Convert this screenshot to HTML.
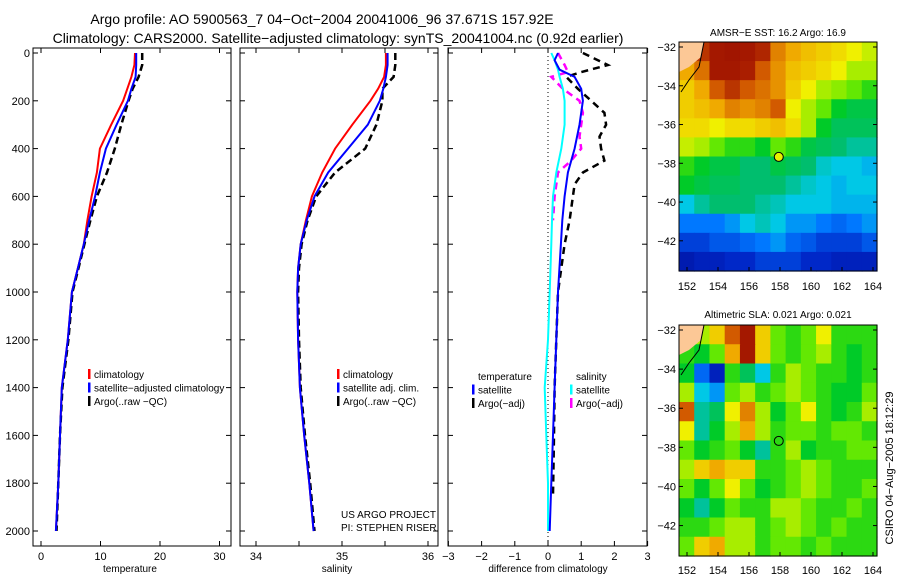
<!DOCTYPE html>
<html><head><meta charset="utf-8">
<style>
body{margin:0;background:#fff;}
svg{display:block;font-family:"Liberation Sans",sans-serif;}
</style></head>
<body>
<svg id="c" width="900" height="580" xmlns="http://www.w3.org/2000/svg">
<text x="322" y="24" font-size="14" text-anchor="middle">Argo profile: AO 5900563_7 04−Oct−2004 20041006_96 37.671S 157.92E</text>
<text x="338" y="43" font-size="14" text-anchor="middle">Climatology: CARS2000. Satellite−adjusted climatology: synTS_20041004.nc (0.92d earlier)</text>
<text x="130" y="572" font-size="10" text-anchor="middle">temperature</text>
<text x="337" y="572" font-size="10" text-anchor="middle">salinity</text>
<text x="548" y="572" font-size="10" text-anchor="middle">difference from climatology</text>
<text x="341" y="518" font-size="10">US ARGO PROJECT</text>
<text x="341" y="531" font-size="10">PI: STEPHEN RISER</text>
<text x="0" y="0" font-size="11" text-anchor="middle" transform="translate(893,468) rotate(-90)">CSIRO 04−Aug−2005 18:12:29</text>
<text x="778" y="36" font-size="10" text-anchor="middle">AMSR−E SST: 16.2 Argo: 16.9</text>
<text x="778" y="318" font-size="10" text-anchor="middle">Altimetric SLA: 0.021 Argo: 0.021</text>
</svg>
<script>
// ---- data ----
const depths = [0,50,100,150,200,300,400,500,600,700,800,900,1000,1200,1400,1600,1800,2000];
const tempClim = [15.8,15.7,15.2,14.5,13.8,11.8,9.9,9.4,8.5,7.8,7.2,6.2,5.2,4.5,3.5,3.2,2.9,2.5];
const tempSat  = [16.0,16.0,15.9,15.2,14.6,12.7,10.9,9.9,9.1,8.1,7.2,6.2,5.2,4.5,3.5,3.2,2.9,2.5];
const tempArgo = [17.0,17.0,16.4,15.4,14.7,13.5,12.4,11.1,9.4,8.3,7.3,6.3,5.3,4.6,3.6,3.2,2.9,2.6];
const salClim = [35.51,35.51,35.49,35.42,35.33,35.12,34.92,34.77,34.65,34.58,34.52,34.49,34.48,34.49,34.51,34.56,34.62,34.67];
const salSat  = [35.53,35.53,35.51,35.48,35.44,35.30,35.07,34.84,34.68,34.59,34.52,34.49,34.48,34.49,34.51,34.56,34.62,34.67];
const salArgo = [35.62,35.62,35.60,35.47,35.47,35.40,35.27,34.92,34.70,34.60,34.53,34.50,34.49,34.50,34.52,34.57,34.63,34.68];
const dDepths = [0,30,70,100,150,200,300,400,500,600,700,800,1000,1200,1400,1600,1800,2000];
const dTempSat = [0.3,0.2,0.35,0.8,1.0,1.05,0.95,0.8,0.6,0.5,0.43,0.39,0.3,0.25,0.2,0.15,0.1,0.05];
const dSalSat  = [0.1,0.2,0.3,0.35,0.45,0.5,0.5,0.4,0.25,0.15,0.12,0.1,0.05,0.0,-0.1,-0.05,0.0,0.0];
const argoDDepths = [0,50,80,100,150,200,250,300,350,400,450,500,550,600,700,800,1000,1200,1400,1600,1850];
const dTempArgo = [1.05,1.8,1.0,0.55,0.9,1.3,1.7,1.75,1.55,1.6,1.7,1.05,0.8,0.75,0.65,0.5,0.3,0.25,0.2,0.18,0.15];
const dSalArgo  = [0.3,0.5,0.6,0.1,0.45,0.95,1.05,1.0,0.95,1.0,0.7,0.3,0.25,0.2,0.15];
const depthTicks = [0,200,400,600,800,1000,1200,1400,1600,1800,2000];
const tempTicks = [0,10,20,30];
const salTicks = [34,34.5,35,35.5,36];
const salTickLabels = ["34","","35","","36"];
const diffTicks = [-3,-2,-1,0,1,2,3];
const lonTicks = [152,154,156,158,160,162,164];
const latTicks = [-32,-34,-36,-38,-40,-42];
// SST map grid: rows lat -32..-43, cols lon 152..164 (0..1 colour scale)
const sstGrid = [
[0.78,0.9,0.95,0.96,0.95,0.92,0.8,0.75,0.72,0.7,0.68,0.65,0.62],
[0.75,0.82,0.95,0.95,0.93,0.85,0.78,0.72,0.7,0.68,0.65,0.6,0.6],
[0.7,0.75,0.85,0.9,0.85,0.82,0.78,0.7,0.65,0.6,0.58,0.55,0.5],
[0.7,0.72,0.75,0.8,0.78,0.8,0.85,0.65,0.6,0.55,0.45,0.42,0.42],
[0.68,0.68,0.65,0.68,0.68,0.7,0.72,0.68,0.6,0.45,0.4,0.4,0.4],
[0.62,0.6,0.55,0.5,0.5,0.45,0.55,0.5,0.42,0.4,0.38,0.35,0.35],
[0.5,0.45,0.42,0.42,0.38,0.38,0.42,0.4,0.38,0.32,0.3,0.3,0.28],
[0.45,0.42,0.4,0.4,0.38,0.38,0.38,0.35,0.32,0.3,0.28,0.3,0.3],
[0.3,0.35,0.38,0.38,0.38,0.35,0.33,0.3,0.3,0.3,0.28,0.28,0.28],
[0.22,0.22,0.22,0.25,0.3,0.33,0.3,0.25,0.25,0.22,0.2,0.22,0.25],
[0.15,0.15,0.18,0.18,0.2,0.22,0.25,0.2,0.18,0.15,0.15,0.15,0.18],
[0.08,0.1,0.1,0.12,0.12,0.15,0.15,0.15,0.12,0.12,0.1,0.1,0.1]];
const slaGrid = [
[0.5,0.6,0.7,0.85,0.95,0.7,0.55,0.5,0.55,0.65,0.5,0.5,0.5],
[0.5,0.45,0.55,0.75,0.95,0.7,0.55,0.5,0.55,0.6,0.5,0.45,0.5],
[0.45,0.2,0.1,0.5,0.4,0.3,0.5,0.6,0.55,0.5,0.5,0.45,0.5],
[0.6,0.3,0.25,0.55,0.6,0.5,0.55,0.6,0.55,0.5,0.45,0.45,0.55],
[0.85,0.35,0.4,0.65,0.8,0.6,0.45,0.55,0.65,0.5,0.45,0.5,0.6],
[0.65,0.35,0.45,0.6,0.75,0.6,0.5,0.55,0.55,0.5,0.55,0.55,0.5],
[0.55,0.45,0.5,0.55,0.45,0.35,0.5,0.6,0.45,0.5,0.5,0.55,0.55],
[0.6,0.7,0.75,0.7,0.7,0.5,0.5,0.55,0.6,0.55,0.5,0.5,0.5],
[0.55,0.45,0.55,0.65,0.55,0.45,0.5,0.55,0.6,0.55,0.5,0.5,0.55],
[0.45,0.35,0.45,0.55,0.5,0.5,0.6,0.6,0.55,0.5,0.5,0.55,0.5],
[0.5,0.5,0.55,0.6,0.6,0.5,0.55,0.6,0.55,0.5,0.55,0.5,0.5],
[0.55,0.7,0.75,0.6,0.6,0.5,0.55,0.55,0.5,0.55,0.5,0.5,0.5]];
const floatLon = 157.92, floatLat = -37.671;

// ---- helpers ----
const svg = document.getElementById('c');
const NS = 'http://www.w3.org/2000/svg';
function mk(tag, attrs, parent){const e=document.createElementNS(NS,tag);for(const k in attrs)e.setAttribute(k,attrs[k]);(parent||svg).appendChild(e);return e;}
const PY0=48, PY1=546;
const yD = d => 53 + d*0.239;

function panel(name, x0, x1, xs, ticks, labels, showY){
  const g = mk('g',{});
  
  
  const r = mk('rect',{x:x0,y:PY0,width:x1-x0,height:PY1-PY0,fill:'none',stroke:'#000','stroke-width':1},g);
  
  
  ticks.forEach((t,i)=>{
    const x=xs(t);
    mk('line',{x1:x,x2:x,y1:PY0,y2:PY0+5,stroke:'#000'},g);
    mk('line',{x1:x,x2:x,y1:PY1,y2:PY1-5,stroke:'#000'},g);
    const tl = mk('text',{x:x,y:PY1+14,'font-size':11,'text-anchor':'middle'},g);
    tl.textContent = labels[i];
    
    
  });
  depthTicks.forEach(d=>{
    const y=yD(d);
    mk('line',{x1:x0,x2:x0+5,y1:y,y2:y,stroke:'#000'},g);
    mk('line',{x1:x1,x2:x1-5,y1:y,y2:y,stroke:'#000'},g);
    if(showY){
      const tl = mk('text',{x:x0-3,y:y+4,'font-size':11,'text-anchor':'end'},g);
      tl.textContent = d;
      
      
    }
  });
  return {g, xs};
}
function line(p, dep, vals, color, name, dash, w){
  const pts = vals.map((v,i)=>p.xs(v).toFixed(1)+','+yD(dep[i]).toFixed(1)).join(' ');
  const l = mk('polyline',{points:pts,fill:'none',stroke:color,'stroke-width':w||2,'stroke-dasharray':dash||'none'},p.g);
  
  
}
function legend(x, y, items){
  items.forEach((it,i)=>{
    const yy = y + i*13.5;
    const m = mk('rect',{x:x,y:yy-9,width:2.5,height:10,fill:it[1]});
    
    
    const t = mk('text',{x:x+6,y:yy,'font-size':10});
    t.textContent = it[0];
    
    
  });
}

// ---- profile panels ----
const p1 = panel('temperature-panel',33,231,v=>41+v*5.95,tempTicks,tempTicks.map(String),true);
line(p1, depths, tempClim, '#f00', 'temp-climatology-line');
line(p1, depths, tempArgo, '#000', 'temp-argo-line', '7,4', 2.5);
line(p1, depths, tempSat, '#00f', 'temp-satellite-line');
legend(88,378,[['climatology','#f00'],['satellite−adjusted climatology','#00f'],['Argo(..raw −QC)','#000']]);

const p2 = panel('salinity-panel',240,438,v=>256+(v-34)*86,salTicks,salTickLabels,false);
line(p2, depths, salClim, '#f00', 'sal-climatology-line');
line(p2, depths, salArgo, '#000', 'sal-argo-line', '7,4', 2.5);
line(p2, depths, salSat, '#00f', 'sal-satellite-line');
legend(337,378,[['climatology','#f00'],['satellite adj. clim.','#00f'],['Argo(..raw −QC)','#000']]);

const p3 = panel('difference-panel',448,647,v=>548+v*33.2,diffTicks,['−3','−2','−1','0','1','2','3'],false);
const zl = mk('line',{x1:548,x2:548,y1:PY0,y2:PY1,stroke:'#000','stroke-dasharray':'1,3'},p3.g);


line(p3, argoDDepths, dTempArgo, '#000', 'diff-temp-argo-line', '7,5', 2.5);
line(p3, argoDDepths.slice(0,dSalArgo.length), dSalArgo, '#f0f', 'diff-sal-argo-line', '7,5', 2.5);
line(p3, dDepths, dSalSat, '#0ff', 'diff-sal-satellite-line');
line(p3, dDepths, dTempSat, '#00f', 'diff-temp-satellite-line');
legend(472,380,[['temperature','none'],['satellite','#00f'],['Argo(−adj)','#000']]);
legend(570,380,[['salinity','none'],['satellite','#0ff'],['Argo(−adj)','#f0f']]);

// ---- maps ----
const cmapStops = [[0,[0,0,128]],[0.12,[0,40,200]],[0.22,[0,120,255]],[0.3,[0,200,230]],[0.38,[0,190,110]],[0.46,[0,205,30]],[0.56,[110,235,0]],[0.65,[240,240,0]],[0.75,[240,170,0]],[0.85,[210,90,0]],[0.93,[170,30,0]],[1,[150,10,0]]];
function cmap(v){
  for(let i=1;i<cmapStops.length;i++){
    if(v<=cmapStops[i][0]){
      const a=cmapStops[i-1],b=cmapStops[i],f=(v-a[0])/(b[0]-a[0]);
      return 'rgb('+a[1].map((c,k)=>Math.round(c+(b[1][k]-c)*f)).join(',')+')';
    }
  }
  return 'rgb(150,10,0)';
}
function map(name, top, bottom, grid, markerFill, labelY){
  const L=679, R=877;
  const xs = lon => 687 + (lon-152)*15.5;
  const ys = lat => top + 5 + (-32-lat)*((bottom-top-10)/ (11.3));
  const g = mk('g',{});
  
  
  const cw=(R-L)/13, ch=(bottom-top)/12;
  grid.forEach((row,r)=>row.forEach((v,c)=>{
    const cell = mk('rect',{x:L+c*cw,y:top+r*ch,width:cw+0.6,height:ch+0.6,fill:cmap(v)},g);
    
    
  }));
  const land = mk('path',{d:`M${L},${top} L${L+25},${top} L${L+22},${top+15} L${L+10},${top+25} L${L},${top+30} Z`,fill:'#fcc896'},g);
  
  
  const coast = mk('path',{d:`M${L+25},${top} L${L+20},${top+25} L${L+10},${top+38} L${L+2},${top+50}`,fill:'none',stroke:'#000','stroke-width':1},g);
  
  
  mk('rect',{x:L,y:top,width:R-L,height:bottom-top,fill:'none',stroke:'#000'},g);
  lonTicks.forEach(t=>{
    const x=xs(t);
    mk('line',{x1:x,x2:x,y1:bottom,y2:bottom-4,stroke:'#000'},g);
    const tl=mk('text',{x:x,y:labelY,'font-size':11,'text-anchor':'middle'},g);
    tl.textContent=t;
    
    
  });
  latTicks.forEach(t=>{
    const y=ys(t);
    mk('line',{x1:L,x2:L+4,y1:y,y2:y,stroke:'#000'},g);
    mk('line',{x1:R,x2:R-4,y1:y,y2:y,stroke:'#000'},g);
    const tl=mk('text',{x:L-3,y:y+4,'font-size':11,'text-anchor':'end'},g);
    tl.textContent='−'+(-t);
    
    
  });
  const m = mk('circle',{cx:xs(floatLon),cy:ys(floatLat),r:4.5,fill:markerFill,stroke:'#000','stroke-width':1},g);
  
  
}
map('sst-map',42,271,sstGrid,'#e8f000',290);
map('sla-map',325,556,slaGrid,'none',574);
</script>
</body></html>
